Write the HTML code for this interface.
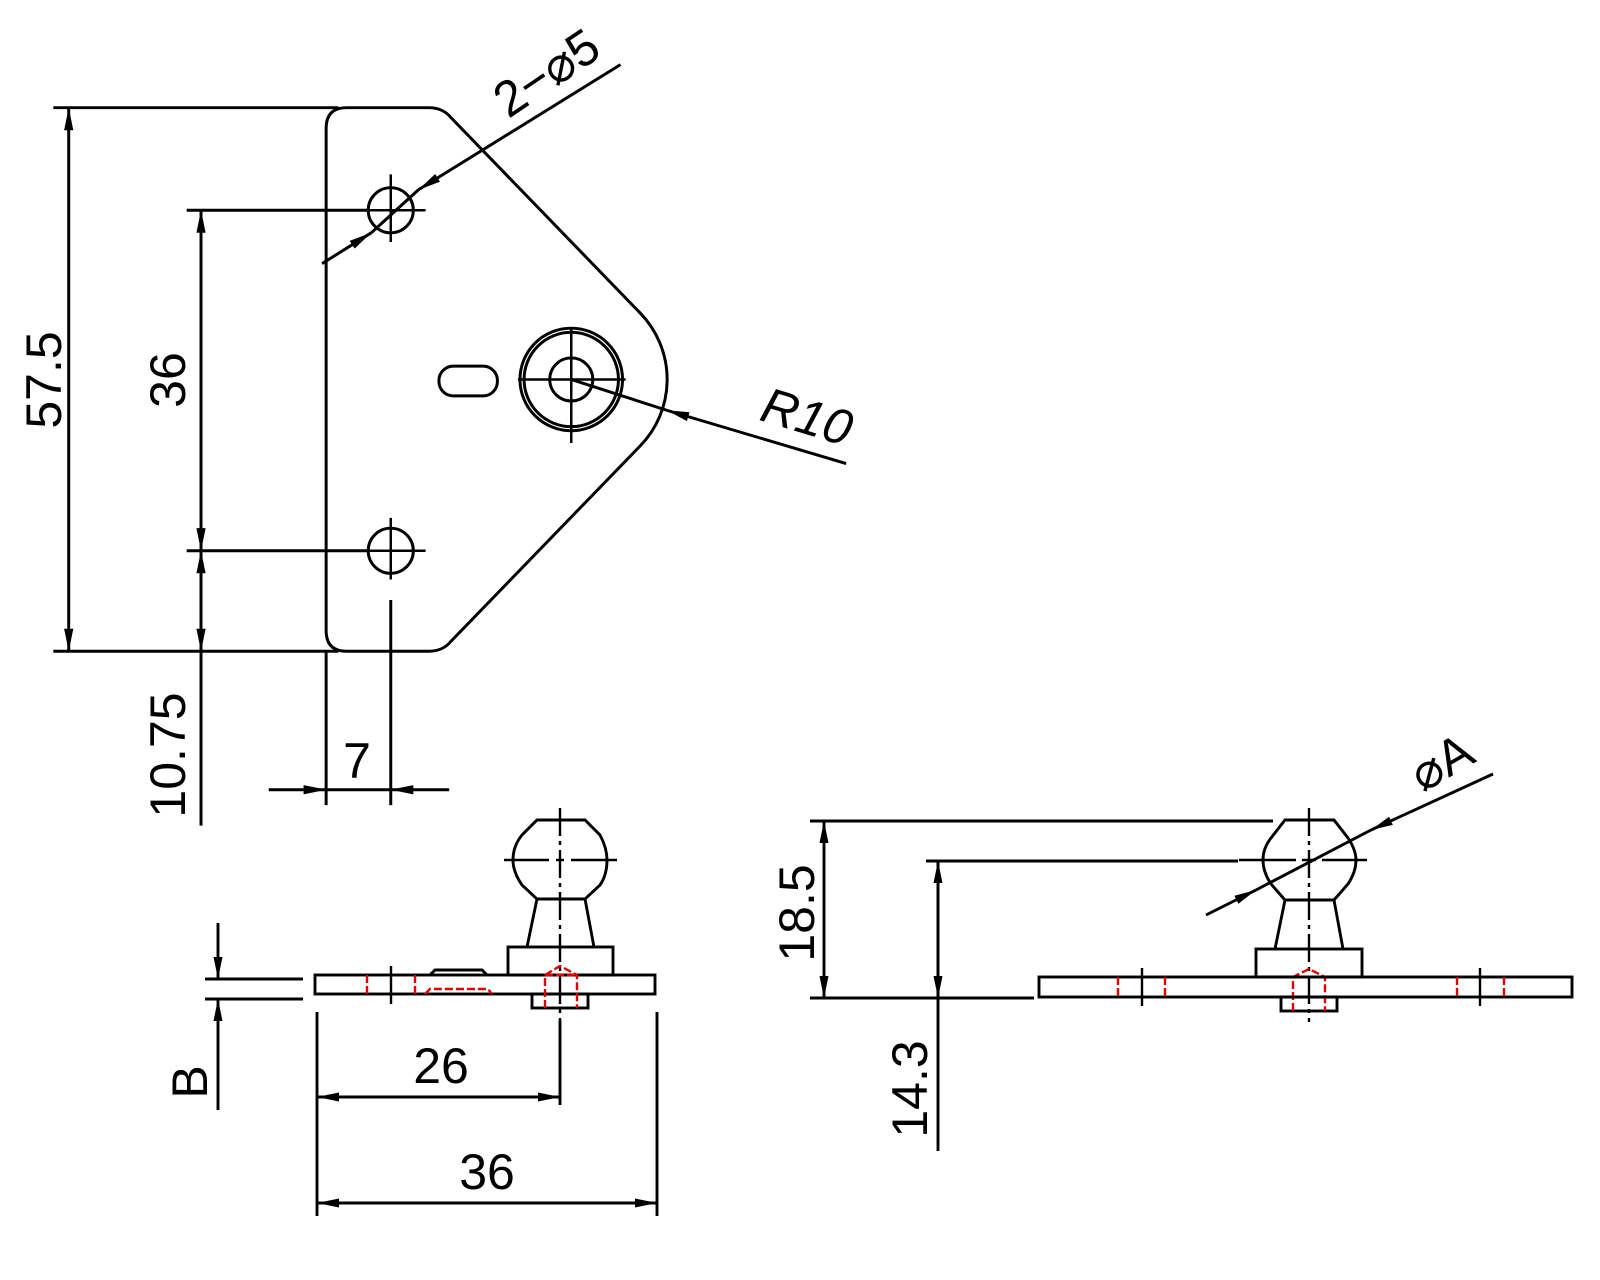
<!DOCTYPE html>
<html><head><meta charset="utf-8"><style>
html,body{margin:0;padding:0;background:#fff;}
svg{display:block;}
text{font-family:"Liberation Sans",Arial,sans-serif;fill:#000;}
</style></head><body>
<svg width="1600" height="1280" viewBox="0 0 1600 1280" xmlns="http://www.w3.org/2000/svg">
<defs>
<marker id="a" viewBox="0 0 22 9" refX="22" refY="4.5" markerWidth="22" markerHeight="9" markerUnits="userSpaceOnUse" orient="auto-start-reverse">
<path d="M0,0 L22,4.5 L0,9 Z" fill="#000"/></marker>
</defs>
<g fill="none" stroke="#000" stroke-width="2.9">
<g transform="scale(1.0256)">
<path d="M338,105 L418,105 Q432,105 440,115 L624,305 A93 93 0 0 1 624,435 L440,625 Q432,635 418,635 L338,635 Q318,635 318,615 L318,125 Q318,105 338,105 Z"/>
<circle cx="557" cy="370" r="50"/><circle cx="557" cy="370" r="46"/><circle cx="557" cy="370" r="21"/>
<path d="M505,370 H610 M557,320 V432" stroke-width="2.4"/>
<circle cx="381" cy="205" r="22"/><circle cx="381" cy="537" r="22"/>
<path d="M355,205 H415 M381,170 V236 M355,537 H415 M381,505 V565" stroke-width="2.4"/>
<rect x="428" y="357" width="57" height="29" rx="14"/>
<path d="M52,105 H330 M52,635 H330"/>
<path d="M67,105 V635" marker-start="url(#a)" marker-end="url(#a)"/>
<path d="M182,205 H360 M182,537 H360"/>
<path d="M196,205 V537" marker-start="url(#a)" marker-end="url(#a)"/>
<path d="M196,805 V537" marker-end="url(#a)"/>
<path d="M196,560 V635" marker-end="url(#a)"/>
<path d="M318,635 V785 M381,585 V785"/>
<path d="M262,770 H318" marker-end="url(#a)"/>
<path d="M438,770 H381" marker-end="url(#a)"/>
<path d="M318,770 H381"/>
<path d="M314,257 L362,227" marker-end="url(#a)"/>
<path d="M605,63 L408,185" marker-end="url(#a)"/>
<path d="M362,227 L408,185"/>
<path d="M825,452 L650,400" marker-end="url(#a)"/>
<path d="M650,400 L557,370"/>
</g>

<path d="M537,820 H585 L600,835 Q607,848 607,860 Q607,875 600,885 L585,899 H537 L522,885 Q513,872 513,860 Q513,846 522,835 Z"/>
<path d="M504,860 H549 M556,860 H564 M571,860 H617" stroke-width="2.4"/>
<path d="M560,808 V1020" stroke-dasharray="28,5,4,5" stroke-width="2.4"/>
<path d="M537,899 L527,947 M585,899 L594,947"/>
<rect x="508" y="947" width="105" height="28"/>
<rect x="315" y="975" width="340" height="19"/>
<rect x="532" y="994" width="56" height="14"/>
<path d="M430,975 L435,970 H482 L487,975"/>
<path d="M391,966 V1004" stroke-width="2.4"/>
<g stroke="#e00000" stroke-width="2.4" stroke-dasharray="8,3">
<path d="M545,1008 V975 L560,966 L577,975 V1008 M545,975 H577"/>
<path d="M367,975 V994 M415,975 V994"/>
<path d="M425,994 L430,989 H488 L492,994"/>
</g>
<path d="M205,979 H303 M205,999 H303"/>
<path d="M218,923 V979" marker-end="url(#a)"/>
<path d="M218,1110 V999" marker-end="url(#a)"/>
<path d="M317,1012 V1216 M657,1012 V1216 M560,1020 V1105"/>
<path d="M317,1097 H560" marker-start="url(#a)" marker-end="url(#a)"/>
<path d="M317,1203 H657" marker-start="url(#a)" marker-end="url(#a)"/>

<g transform="translate(-4,0)">
<path d="M1289,820 H1338 L1352,838 Q1360,850 1360,860 Q1360,872 1352,884 L1338,900 H1289 L1275,884 Q1267,872 1267,860 Q1267,848 1275,838 Z"/>
<path d="M1243,860 H1300 M1306,860 H1320 M1326,860 H1371" stroke-width="2.4"/>
<path d="M1313,808 V1022" stroke-dasharray="28,5,4,5" stroke-width="2.4"/>
<path d="M1289,900 L1279,949 M1338,900 L1347,949"/>
<rect x="1260" y="949" width="106" height="28"/>
<rect x="1285" y="997" width="56" height="14"/>
<g stroke="#e00000" stroke-width="2.4" stroke-dasharray="8,3">
<path d="M1297,1011 V977 L1313,969 L1329,977 V1011 M1297,977 H1329"/>
</g>
<path d="M1210,915 L1260,890" marker-end="url(#a)"/>
<path d="M1497,774 L1375,830" marker-end="url(#a)"/>
<path d="M1260,890 L1375,830"/>
</g>
<rect x="1039" y="977" width="533" height="20"/>
<path d="M1142,968 V1006 M1480,968 V1006" stroke-width="2.4"/>
<g stroke="#e00000" stroke-width="2.4" stroke-dasharray="8,3">
<path d="M1118,977 V997 M1165,977 V997 M1457,977 V997 M1504,977 V997"/>
</g>
<path d="M810,821 H1273 M926,861 H1238 M810,998 H1034"/>
<path d="M824,821 V998" marker-start="url(#a)" marker-end="url(#a)"/>
<path d="M938,861 V1151"/>
<path d="M938,861 V998" marker-start="url(#a)" marker-end="url(#a)"/>
</g>

<g font-size="50">
<text transform="translate(61,380) rotate(-90)" text-anchor="middle">57.5</text>
<text transform="translate(185,380) rotate(-90)" text-anchor="middle">36</text>
<text transform="translate(185,755) rotate(-90)" text-anchor="middle">10.75</text>
<text x="357" y="778" text-anchor="middle">7</text>
<text transform="translate(556,87) rotate(-34)" text-anchor="middle">2−⌀5</text>
<text transform="translate(802,433) rotate(17)" text-anchor="middle" font-style="italic">R10</text>
<text transform="translate(207,1082) rotate(-90)" text-anchor="middle">B</text>
<text x="441" y="1083" text-anchor="middle">26</text>
<text x="487" y="1189" text-anchor="middle">36</text>
<text transform="translate(814,913) rotate(-90)" text-anchor="middle">18.5</text>
<text transform="translate(927,1089) rotate(-90)" text-anchor="middle">14.3</text>
<text transform="translate(1450,777) rotate(-30)" text-anchor="middle">⌀A</text>
</g>
</svg>
</body></html>
